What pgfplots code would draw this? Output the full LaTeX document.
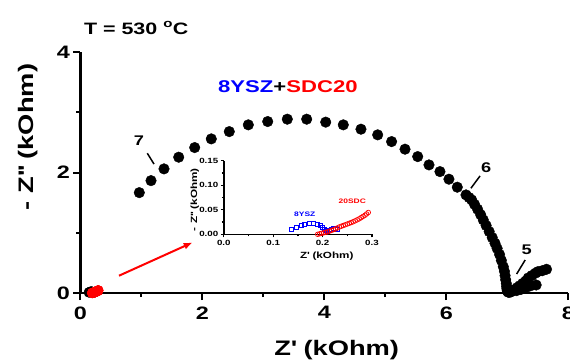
\documentclass[border=0pt]{standalone}
\usepackage{fontspec}
\setmainfont{Liberation Sans}[FakeStretch=1.3]
\usepackage{pgfplots}
\pgfplotsset{compat=1.18}
\usetikzlibrary{arrows.meta}
\begin{document}
\begin{tikzpicture}
\begin{axis}[
  at={(0pt,0pt)}, anchor=south west,
  scale only axis, width=488pt, height=241pt,
  xmin=0, xmax=8, ymin=0, ymax=4,
  axis x line=bottom, axis y line=left,
  axis line style={-, line width=2.5pt},
  tick style={black, line width=2pt},
  tick align=outside,
  major tick length=7pt, minor tick length=4pt,
  xtick={0,2,4,6,8}, minor xtick={1,3,5,7},
  ytick={0,2,4}, minor ytick={1,3},
  /pgf/number format/assume math mode=true,
  tick label style={font=\fontsize{18pt}{20pt}\selectfont\bfseries},
  xticklabel style={yshift=-3pt},
  xlabel={Z\textquotesingle{} (kOhm)},
  ylabel={- Z\textquotesingle\textquotesingle{} (kOhm)},
  xlabel style={font=\fontsize{21pt}{23pt}\selectfont\bfseries, at={(axis description cs:0.525,-0.2365)}, anchor=center},
  ylabel style={font=\fontsize{21pt}{23pt}\selectfont\bfseries, at={(axis description cs:-0.108,0.647)}, anchor=center},
  clip=false,
]
% 8YSZ (black) and 20SDC (red) near origin
\addplot[only marks, mark=*, mark size=5pt, mark options={draw=black, fill=black}] coordinates {
(0.137,0.010) (0.147,0.014) (0.156,0.018) (0.164,0.020) (0.173,0.0215) (0.181,0.0215) (0.189,0.020) (0.195,0.0175) (0.200,0.0145) (0.204,0.011) (0.207,0.008) (0.210,0.007) (0.214,0.008) (0.218,0.0105) (0.222,0.012) (0.226,0.012) (0.230,0.011)
};
\addplot[only marks, mark=*, mark size=5pt, mark options={draw=red, fill=red}] coordinates {
(0.190,0.000) (0.194,0.001) (0.198,0.002) (0.202,0.003) (0.206,0.004) (0.210,0.005) (0.214,0.0065) (0.218,0.008) (0.222,0.0095) (0.226,0.011) (0.230,0.013) (0.234,0.015) (0.238,0.0165) (0.242,0.018) (0.246,0.0195) (0.250,0.021) (0.254,0.0225) (0.258,0.024) (0.262,0.0257) (0.266,0.0275) (0.270,0.0295) (0.274,0.0315) (0.278,0.034) (0.282,0.0365) (0.286,0.039) (0.289,0.0415) (0.2925,0.0445)
};
% composite 8YSZ+SDC20
\addplot[only marks, mark=*, mark size=5.3pt, mark options={draw=black, fill=black}] coordinates {
(0.964,1.666) (1.156,1.865) (1.369,2.060) (1.610,2.254) (1.872,2.414) (2.144,2.558) (2.439,2.679) (2.751,2.791) (3.069,2.846) (3.390,2.885) (3.708,2.885) (4.020,2.836) (4.308,2.791) (4.598,2.719) (4.872,2.625) (5.100,2.513) (5.320,2.387) (5.528,2.264) (5.713,2.126) (5.893,2.015) (6.040,1.889) (6.177,1.756) (6.320,1.628)
(6.37,1.585) (6.413,1.545) (6.46,1.47) (6.51,1.39) (6.56,1.30) (6.603,1.213) (6.65,1.12) (6.70,1.02) (6.75,0.92) (6.795,0.826) (6.83,0.74) (6.87,0.64) (6.90,0.54) (6.931,0.437) (6.95,0.36) (6.96,0.29) (6.97,0.22) (6.98,0.16) (6.987,0.11) (6.99,0.078) (6.995,0.05) (7.00,0.03) (7.01,0.015) (7.03,0.01)
(7.06,0.02) (7.09,0.04) (7.12,0.06) (7.16,0.09) (7.20,0.12) (7.25,0.16) (7.30,0.20) (7.34,0.25) (7.40,0.29) (7.46,0.33) (7.50,0.355) (7.57,0.37) (7.64,0.394)
(7.15,0.04) (7.22,0.06) (7.30,0.09) (7.38,0.12) (7.47,0.133)
};
\node[font=\fontsize{16.5pt}{18pt}\selectfont\bfseries, anchor=west] at (axis cs:0.0,4.397) {T = 530 \textsuperscript{o}C};
\node[font=\fontsize{17pt}{19pt}\selectfont\bfseries] at (axis cs:3.40,3.417) {\textcolor{blue}{8YSZ}+\textcolor{red}{SDC20}};
\node[font=\fontsize{14pt}{16pt}\selectfont\bfseries] at (axis cs:0.96,2.522) {7};
\draw[line width=1.5pt] (axis cs:1.095,2.32) -- (axis cs:1.205,2.14);
\node[font=\fontsize{14pt}{16pt}\selectfont\bfseries] at (axis cs:6.65,2.085) {6};
\draw[line width=1.5pt] (axis cs:6.55,1.943) -- (axis cs:6.40,1.738);
\node[font=\fontsize{14pt}{16pt}\selectfont\bfseries] at (axis cs:7.315,0.714) {5};
\draw[line width=1.5pt] (axis cs:7.29,0.548) -- (axis cs:7.15,0.315);
\draw[red, line width=2pt, -{Latex[length=9pt,width=7pt]}] (axis cs:0.631,0.287) -- (axis cs:1.84,0.84);
\end{axis}
\begin{axis}[
  at={(143.3pt,58.7pt)}, anchor=south west,
  scale only axis, width=148.2pt, height=73.6pt,
  xmin=0, xmax=0.3, ymin=0, ymax=0.15,
  axis x line=bottom, axis y line=left,
  axis line style={-, line width=1.6pt},
  tick style={black, line width=1.2pt},
  tick align=outside,
  major tick length=3pt, minor tick length=2pt,
  xtick={0,0.1,0.2,0.3}, minor xtick={0.05,0.15,0.25},
  ytick={0,0.05,0.10,0.15}, minor ytick={0.025,0.075,0.125},
  xticklabels={0.0,0.1,0.2,0.3},
  yticklabels={0.00,0.05,0.10,0.15},
  scaled ticks=false,
  tick label style={font=\fontsize{7.5pt}{8pt}\selectfont\bfseries},
  xticklabel style={yshift=1pt},
  yticklabel style={xshift=1pt},
  xlabel={Z\textquotesingle{} (kOhm)},
  ylabel={- Z\textquotesingle\textquotesingle{} (kOhm)},
  xlabel style={font=\fontsize{9pt}{10pt}\selectfont\bfseries, at={(axis description cs:0.695,-0.295)}, anchor=center},
  ylabel style={font=\fontsize{9pt}{10pt}\selectfont\bfseries, at={(axis description cs:-0.195,0.47)}, anchor=center},
  clip=false,
]
\addplot[only marks, mark=square, mark size=2pt, mark options={draw=blue, line width=0.7pt}] coordinates {
(0.137,0.010) (0.147,0.014) (0.156,0.018) (0.164,0.020) (0.173,0.0215) (0.181,0.0215) (0.189,0.020) (0.195,0.0175) (0.200,0.0145) (0.204,0.011) (0.207,0.008) (0.210,0.007) (0.214,0.008) (0.218,0.0105) (0.222,0.012) (0.226,0.012) (0.230,0.011)
};
\addplot[only marks, mark=o, mark size=2.3pt, mark options={draw=red, line width=0.7pt}] coordinates {
(0.190,0.000) (0.194,0.001) (0.198,0.002) (0.202,0.003) (0.206,0.004) (0.210,0.005) (0.214,0.0065) (0.218,0.008) (0.222,0.0095) (0.226,0.011) (0.230,0.013) (0.234,0.015) (0.238,0.0165) (0.242,0.018) (0.246,0.0195) (0.250,0.021) (0.254,0.0225) (0.258,0.024) (0.262,0.0257) (0.266,0.0275) (0.270,0.0295) (0.274,0.0315) (0.278,0.034) (0.282,0.0365) (0.286,0.039) (0.289,0.0415) (0.2925,0.0445)
};
\node[font=\fontsize{6.5pt}{7pt}\selectfont\bfseries, text=blue] at (axis cs:0.164,0.041) {8YSZ};
\node[font=\fontsize{6.5pt}{7pt}\selectfont\bfseries, text=red] at (axis cs:0.26,0.0664) {20SDC};
\end{axis}
\pgfresetboundingbox
\useasboundingbox (-80.5pt,-67pt) rectangle (489.5pt,293pt);
\end{tikzpicture}
\end{document}
